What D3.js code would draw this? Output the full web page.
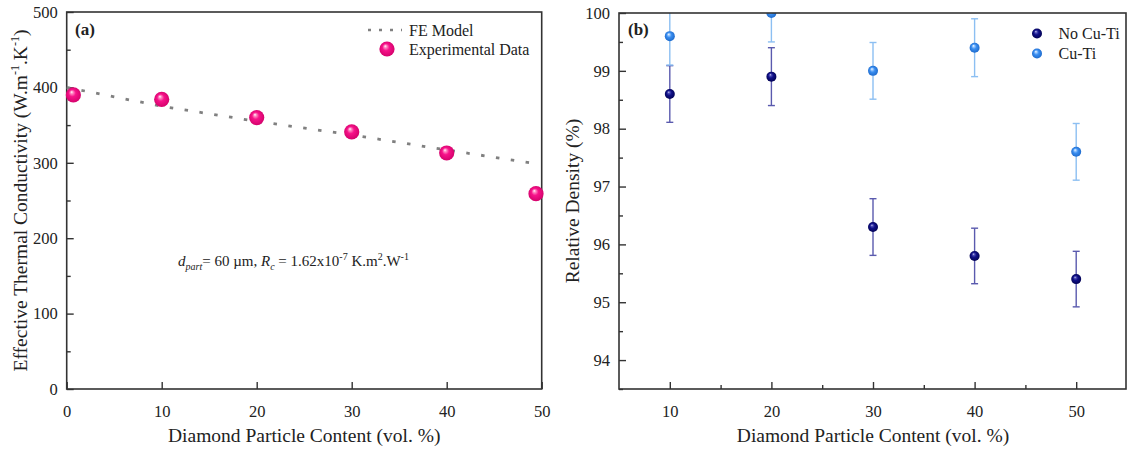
<!DOCTYPE html>
<html><head><meta charset="utf-8">
<script src="https://cdn.jsdelivr.net/npm/d3@7"></script>
<style>
html,body{margin:0;padding:0;background:#fff;}
svg{display:block;font-family:"Liberation Serif","Times New Roman",serif;}
</style></head>
<body><svg id="c" width="1127" height="450"></svg>
<script>
// ---- Panel (a) data ----
const expX = [0.7, 10, 20, 30, 40, 49.4];
const expY = [390, 384, 360, 341, 313, 259];
const feX = [0, 10, 20, 30, 40, 48.8];
const feY = [400, 375, 355, 337, 317, 300];
const aXTicks = [0, 10, 20, 30, 40, 50];
const aYTicks = [0, 100, 200, 300, 400, 500];
const aYMinor = [50, 150, 250, 350, 450];

// ---- Panel (b) data ----
const bX = [10, 20, 30, 40, 50];
const noCuTi = [98.6, 98.9, 96.3, 95.8, 95.4];
const noCuTiErr = [0.49, 0.5, 0.49, 0.48, 0.48];
const cuTi = [99.6, 100.0, 99.0, 99.4, 97.6];
const cuTiErr = [0.5, 0.5, 0.49, 0.5, 0.49];
const bXTicks = [10, 20, 30, 40, 50];
const bXMinor = [15, 25, 35, 45];
const bYTicks = [94, 95, 96, 97, 98, 99, 100];
const bYMinor = [93.5, 94.5, 95.5, 96.5, 97.5, 98.5, 99.5];

const svg = d3.select("#c");
const TXT = "#222";
const defs = svg.append("defs");
function sphere(id, stops){
  const g = defs.append("radialGradient").attr("id", id)
    .attr("cx", "50%").attr("cy", "50%").attr("r", "55%").attr("fx", "38%").attr("fy", "30%");
  stops.forEach(s => g.append("stop").attr("offset", s[0]).attr("stop-color", s[1]));
}
sphere("gPink", [[0, "#ffffff"], [0.16, "#ff8cc4"], [0.42, "#f7138a"], [1, "#d00068"]]);
sphere("gNavy", [[0, "#d8d8f0"], [0.18, "#5050b8"], [0.45, "#101088"], [1, "#00004e"]]);
sphere("gBlue", [[0, "#ffffff"], [0.18, "#9ccaff"], [0.45, "#3a8ef0"], [1, "#1a66c8"]]);

// ================= Panel (a) =================
const aL = 66.7, aR = 541.7, aT = 12, aB = 389;
const xa = d3.scaleLinear().domain([0, 50]).range([aL, aR]);
const ya = d3.scaleLinear().domain([0, 500]).range([aB, aT]);
const gA = svg.append("g");

gA.append("g").attr("transform", `translate(0,${aB})`)
  .call(d3.axisBottom(xa).tickValues(aXTicks).tickSize(-7).tickPadding(16).tickFormat(d3.format("d")))
  .call(g => { g.select(".domain").remove(); g.selectAll("line").attr("stroke", "#333").attr("stroke-width", 1.4);
    g.selectAll("text").attr("font-size", 16.5).attr("fill", TXT).attr("font-family", "Liberation Serif"); });
gA.append("g").attr("transform", `translate(${aL},0)`)
  .call(d3.axisLeft(ya).tickValues(aYTicks).tickSize(-7).tickPadding(9).tickFormat(d3.format("d")))
  .call(g => { g.select(".domain").remove(); g.selectAll("line").attr("stroke", "#333").attr("stroke-width", 1.4);
    g.selectAll("text").attr("font-size", 16.5).attr("fill", TXT).attr("font-family", "Liberation Serif"); });
gA.append("g").attr("transform", `translate(${aL},0)`)
  .call(d3.axisLeft(ya).tickValues(aYMinor).tickSize(-4).tickFormat(""))
  .call(g => { g.select(".domain").remove(); g.selectAll("line").attr("stroke", "#333").attr("stroke-width", 1.4); });
gA.append("rect").attr("x", aL).attr("y", aT).attr("width", aR - aL).attr("height", aB - aT)
  .attr("fill", "none").attr("stroke", "#333").attr("stroke-width", 1.6);

gA.append("path").datum(feX.map((x, i) => [x, feY[i]]))
  .attr("d", d3.line().x(d => xa(d[0])).y(d => ya(d[1])))
  .attr("fill", "none").attr("stroke", "#808080").attr("stroke-width", 2.8)
  .attr("stroke-dasharray", "3.5,11.5");
gA.selectAll("circle.exp").data(expX.map((x, i) => [x, expY[i]])).join("circle")
  .attr("class", "exp").attr("cx", d => xa(d[0])).attr("cy", d => ya(d[1])).attr("r", 7.6)
  .attr("fill", "url(#gPink)");

gA.append("line").attr("x1", 368).attr("x2", 402).attr("y1", 30).attr("y2", 30)
  .attr("stroke", "#808080").attr("stroke-width", 2.6).attr("stroke-dasharray", "3,8");
gA.append("text").attr("x", 409).attr("y", 35.5).attr("font-size", 16).attr("fill", TXT).text("FE Model");
gA.append("circle").attr("cx", 387).attr("cy", 49).attr("r", 7.6).attr("fill", "url(#gPink)");
gA.append("text").attr("x", 409).attr("y", 55).attr("font-size", 16).attr("fill", TXT).text("Experimental Data");

gA.append("text").attr("x", 75).attr("y", 35).attr("font-size", 17).attr("font-weight", "bold").attr("fill", TXT).text("(a)");

const ann = gA.append("text").attr("x", 178).attr("y", 266).attr("font-size", 15).attr("fill", TXT);
ann.append("tspan").attr("font-style", "italic").text("d");
ann.append("tspan").attr("font-style", "italic").attr("font-size", 10).attr("dy", 4).text("part");
ann.append("tspan").attr("dy", -4).text("= 60 µm, ");
ann.append("tspan").attr("font-style", "italic").text("R");
ann.append("tspan").attr("font-style", "italic").attr("font-size", 10).attr("dy", 4).text("c");
ann.append("tspan").attr("dy", -4).text(" = 1.62x10");
ann.append("tspan").attr("font-size", 10).attr("dy", -6).text("-7");
ann.append("tspan").attr("dy", 6).text(" K.m");
ann.append("tspan").attr("font-size", 10).attr("dy", -6).text("2");
ann.append("tspan").attr("dy", 6).text(".W");
ann.append("tspan").attr("font-size", 10).attr("dy", -6).text("-1");

gA.append("text").attr("x", (aL + aR) / 2).attr("y", 442).attr("text-anchor", "middle")
  .attr("font-size", 19.5).attr("fill", TXT).text("Diamond Particle Content (vol. %)");
const yt = gA.append("text").attr("transform", `translate(27,${(aT + aB) / 2}) rotate(-90)`)
  .attr("text-anchor", "middle").attr("font-size", 19.5).attr("fill", TXT);
yt.append("tspan").text("Effective Thermal Conductivity (W.m");
yt.append("tspan").attr("font-size", 12).attr("dy", -8).text("-1");
yt.append("tspan").attr("dy", 8).text(".K");
yt.append("tspan").attr("font-size", 12).attr("dy", -8).text("-1");
yt.append("tspan").attr("dy", 8).text(")");

// ================= Panel (b) =================
const bL = 619, bR = 1127, bT = 13, bB = 389;
const xb = d3.scaleLinear().domain([5, 55]).range([bL, bR]);
const yb = d3.scaleLinear().domain([93.5, 100]).range([bB, bT]);
const gB = svg.append("g");

gB.append("g").attr("transform", `translate(0,${bB})`)
  .call(d3.axisBottom(xb).tickValues(bXTicks).tickSize(-7).tickPadding(16).tickFormat(d3.format("d")))
  .call(g => { g.select(".domain").remove(); g.selectAll("line").attr("stroke", "#333").attr("stroke-width", 1.4);
    g.selectAll("text").attr("font-size", 16.5).attr("fill", TXT).attr("font-family", "Liberation Serif"); });
gB.append("g").attr("transform", `translate(0,${bB})`)
  .call(d3.axisBottom(xb).tickValues(bXMinor).tickSize(-4).tickFormat(""))
  .call(g => { g.select(".domain").remove(); g.selectAll("line").attr("stroke", "#333").attr("stroke-width", 1.4); });
gB.append("g").attr("transform", `translate(${bL},0)`)
  .call(d3.axisLeft(yb).tickValues(bYTicks).tickSize(-7).tickPadding(9).tickFormat(d3.format("d")))
  .call(g => { g.select(".domain").remove(); g.selectAll("line").attr("stroke", "#333").attr("stroke-width", 1.4);
    g.selectAll("text").attr("font-size", 16.5).attr("fill", TXT).attr("font-family", "Liberation Serif"); });
gB.append("g").attr("transform", `translate(${bL},0)`)
  .call(d3.axisLeft(yb).tickValues(bYMinor).tickSize(-4).tickFormat(""))
  .call(g => { g.select(".domain").remove(); g.selectAll("line").attr("stroke", "#333").attr("stroke-width", 1.4); });

defs.append("clipPath").attr("id", "clipB").append("rect")
  .attr("x", bL).attr("y", bT).attr("width", bR - bL).attr("height", bB - bT);
const plotB = gB.append("g").attr("clip-path", "url(#clipB)");

function series(vals, errs, barColor, grad){
  const d = bX.map((x, i) => ({x, y: vals[i], e: errs[i]}));
  const g = plotB.append("g");
  g.selectAll("line.v").data(d).join("line").attr("class", "v")
    .attr("x1", p => xb(p.x)).attr("x2", p => xb(p.x))
    .attr("y1", p => yb(p.y + p.e)).attr("y2", p => yb(p.y - p.e))
    .attr("stroke", barColor).attr("stroke-width", 1.4);
  ["t", "b"].forEach(k => {
    g.selectAll("line.c" + k).data(d).join("line").attr("class", "c" + k)
      .attr("x1", p => xb(p.x) - 3.5).attr("x2", p => xb(p.x) + 3.5)
      .attr("y1", p => yb(k === "t" ? p.y + p.e : p.y - p.e))
      .attr("y2", p => yb(k === "t" ? p.y + p.e : p.y - p.e))
      .attr("stroke", barColor).attr("stroke-width", 1.4);
  });
  g.selectAll("circle").data(d).join("circle")
    .attr("cx", p => xb(p.x)).attr("cy", p => yb(p.y)).attr("r", 5).attr("fill", grad);
}
series(noCuTi, noCuTiErr, "#5a5aae", "url(#gNavy)");
series(cuTi, cuTiErr, "#8cbff2", "url(#gBlue)");

gB.append("rect").attr("x", bL).attr("y", bT).attr("width", bR - bL - 1).attr("height", bB - bT)
  .attr("fill", "none").attr("stroke", "#333").attr("stroke-width", 1.6);

gB.append("circle").attr("cx", 1037).attr("cy", 33.5).attr("r", 5).attr("fill", "url(#gNavy)");
gB.append("text").attr("x", 1058.5).attr("y", 39).attr("font-size", 16).attr("fill", TXT).text("No Cu-Ti");
gB.append("circle").attr("cx", 1037).attr("cy", 53.5).attr("r", 5).attr("fill", "url(#gBlue)");
gB.append("text").attr("x", 1058.5).attr("y", 59).attr("font-size", 16).attr("fill", TXT).text("Cu-Ti");

gB.append("text").attr("x", 628).attr("y", 35).attr("font-size", 17).attr("font-weight", "bold").attr("fill", TXT).text("(b)");

gB.append("text").attr("x", (bL + bR) / 2).attr("y", 442).attr("text-anchor", "middle")
  .attr("font-size", 19.5).attr("fill", TXT).text("Diamond Particle Content (vol. %)");
gB.append("text").attr("transform", `translate(579,${(bT + bB) / 2}) rotate(-90)`)
  .attr("text-anchor", "middle").attr("font-size", 19.5).attr("fill", TXT).text("Relative Density (%)");
</script></body></html>
